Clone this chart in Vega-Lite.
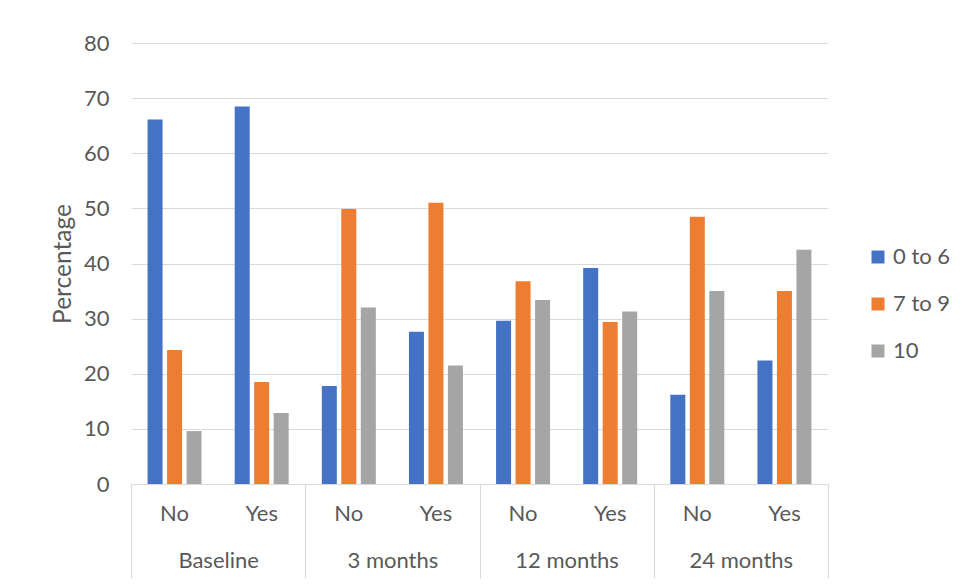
{
  "$schema": "https://vega.github.io/schema/vega-lite/v6.json",
  "width": 697,
  "height": 441,
  "autosize": {"type": "none"},
  "padding": {"left": 131, "top": 43, "right": 134, "bottom": 100},
  "background": "white",
  "config": {
    "font": "Lato",
    "view": {"stroke": null},
    "axis": {"labelColor": "#595959", "titleColor": "#595959", "labelFont": "Lato", "titleFont": "Lato"},
    "legend": {"labelColor": "#595959", "labelFont": "Lato"}
  },
  "data": {
    "values": [
      {"cell": "Baseline|No", "time": "Baseline", "score": "0 to 6", "value": 66.1},
      {"cell": "Baseline|No", "time": "Baseline", "score": "7 to 9", "value": 24.3},
      {"cell": "Baseline|No", "time": "Baseline", "score": "10", "value": 9.6},
      {"cell": "Baseline|Yes", "time": "Baseline", "score": "0 to 6", "value": 68.5},
      {"cell": "Baseline|Yes", "time": "Baseline", "score": "7 to 9", "value": 18.5},
      {"cell": "Baseline|Yes", "time": "Baseline", "score": "10", "value": 12.9},
      {"cell": "3 months|No", "time": "3 months", "score": "0 to 6", "value": 17.8},
      {"cell": "3 months|No", "time": "3 months", "score": "7 to 9", "value": 49.9},
      {"cell": "3 months|No", "time": "3 months", "score": "10", "value": 32.0},
      {"cell": "3 months|Yes", "time": "3 months", "score": "0 to 6", "value": 27.6},
      {"cell": "3 months|Yes", "time": "3 months", "score": "7 to 9", "value": 51.0},
      {"cell": "3 months|Yes", "time": "3 months", "score": "10", "value": 21.5},
      {"cell": "12 months|No", "time": "12 months", "score": "0 to 6", "value": 29.6},
      {"cell": "12 months|No", "time": "12 months", "score": "7 to 9", "value": 36.8},
      {"cell": "12 months|No", "time": "12 months", "score": "10", "value": 33.4},
      {"cell": "12 months|Yes", "time": "12 months", "score": "0 to 6", "value": 39.2},
      {"cell": "12 months|Yes", "time": "12 months", "score": "7 to 9", "value": 29.4},
      {"cell": "12 months|Yes", "time": "12 months", "score": "10", "value": 31.3},
      {"cell": "24 months|No", "time": "24 months", "score": "0 to 6", "value": 16.2},
      {"cell": "24 months|No", "time": "24 months", "score": "7 to 9", "value": 48.5},
      {"cell": "24 months|No", "time": "24 months", "score": "10", "value": 35.0},
      {"cell": "24 months|Yes", "time": "24 months", "score": "0 to 6", "value": 22.4},
      {"cell": "24 months|Yes", "time": "24 months", "score": "7 to 9", "value": 35.0},
      {"cell": "24 months|Yes", "time": "24 months", "score": "10", "value": 42.5}
    ]
  },
  "layer": [
    {
      "mark": {"type": "bar"},
      "encoding": {
        "x": {
          "field": "cell", "type": "nominal",
          "sort": ["Baseline|No", "Baseline|Yes", "3 months|No", "3 months|Yes", "12 months|No", "12 months|Yes", "24 months|No", "24 months|Yes"],
          "scale": {"paddingInner": 0, "paddingOuter": 0},
          "axis": {
            "title": null,
            "labelExpr": "split(datum.value, '|')[1]",
            "labelAngle": 0,
            "labelFontSize": 22,
            "labelPadding": 19,
            "ticks": false,
            "tickSize": 0,
            "domain": true,
            "domainColor": "#D9D9D9",
            "grid": false
          }
        },
        "xOffset": {
          "field": "score", "type": "nominal",
          "sort": ["0 to 6", "7 to 9", "10"],
          "scale": {"paddingInner": 0.23, "paddingOuter": 0.85}
        },
        "y": {
          "field": "value", "type": "quantitative",
          "scale": {"domain": [0, 80]},
          "axis": {
            "title": "Percentage",
            "titleFontSize": 24.5,
            "titleFontWeight": "normal",
            "titlePadding": 8,
            "values": [0, 10, 20, 30, 40, 50, 60, 70, 80],
            "labelFontSize": 22,
            "labelPadding": 22,
            "domain": false,
            "ticks": false,
            "grid": true,
            "gridColor": "#D9D9D9"
          }
        },
        "color": {
          "field": "score", "type": "nominal",
          "sort": ["0 to 6", "7 to 9", "10"],
          "scale": {"domain": ["0 to 6", "7 to 9", "10"], "range": ["#4472C4", "#ED7D31", "#A5A5A5"]},
          "legend": {
            "title": null,
            "orient": "none",
            "legendX": 736,
            "legendY": 203,
            "symbolType": "square",
            "symbolSize": 169,
            "symbolStrokeWidth": 0,
            "labelFontSize": 22,
            "labelOffset": 4,
            "rowPadding": 25
          }
        }
      }
    },
    {
      "mark": {"type": "bar", "opacity": 0},
      "encoding": {
        "x": {
          "field": "time", "type": "nominal",
          "sort": ["Baseline", "3 months", "12 months", "24 months"],
          "scale": {"paddingInner": 0, "paddingOuter": 0},
          "axis": {
            "orient": "bottom",
            "title": null,
            "labelAngle": 0,
            "labelFontSize": 22,
            "ticks": true,
            "tickBand": "extent",
            "tickSize": 94,
            "tickColor": "#D9D9D9",
            "labelPadding": -28,
            "domain": false,
            "grid": false
          }
        },
        "y": {"field": "value", "type": "quantitative", "aggregate": "max"}
      }
    }
  ],
  "resolve": {"scale": {"x": "independent"}, "axis": {"x": "independent"}}
}
